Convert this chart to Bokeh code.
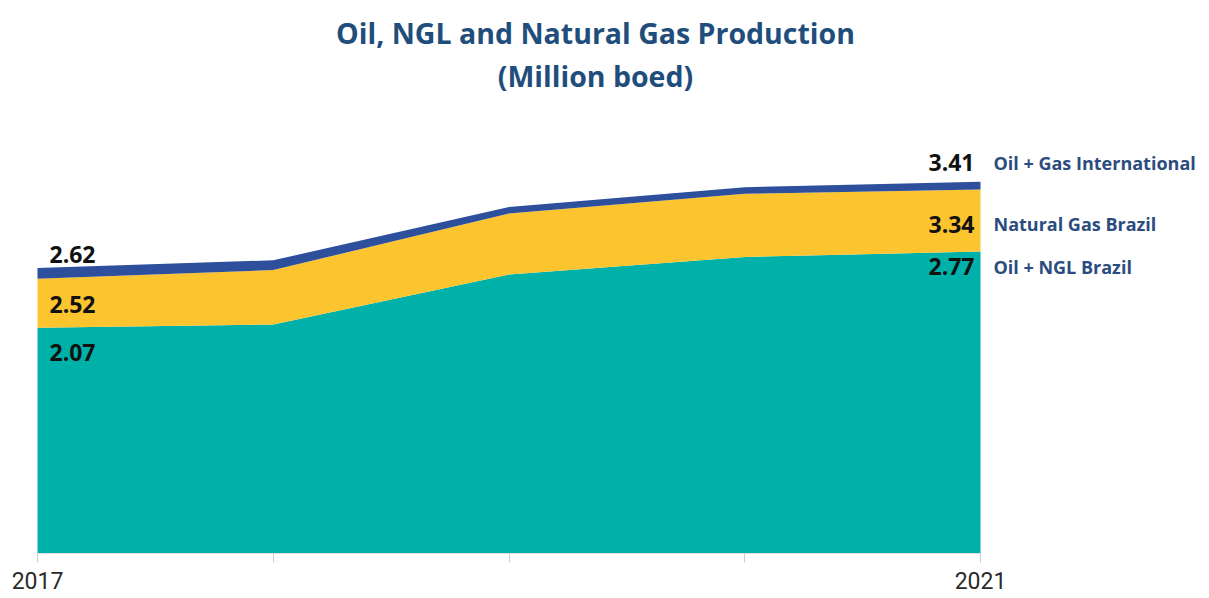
from bokeh.plotting import figure
from bokeh.models import ColumnDataSource, Label, FixedTicker, Range1d
from bokeh.embed import file_html
from bokeh.resources import INLINE

# ---- data ----
years = [2017, 2018, 2019, 2020, 2021]
oil_ngl_brazil = [2.07, 2.10, 2.56, 2.72, 2.77]
natural_gas_brazil = [0.45, 0.50, 0.56, 0.58, 0.57]
oil_gas_international = [0.10, 0.09, 0.06, 0.06, 0.07]
series_names = ["Oil + NGL Brazil", "Natural Gas Brazil", "Oil + Gas International"]
tick_labels = {2017: "2017", 2018: "", 2019: "", 2020: "", 2021: "2021"}
title_lines = ["Oil, NGL and Natural Gas Production", "(Million boed)"]

colors = ["#00B1A9", "#FCC42F", "#2D4F9C"]
NAME_COLOR = "#2B4C7E"
TITLE_COLOR = "#1F4E7C"

source = ColumnDataSource(dict(
    year=years,
    oil=oil_ngl_brazil,
    gas=natural_gas_brazil,
    intl=oil_gas_international,
))

# frame spans the whole width; 2017 sits at x=37 px and 2021 at x=980 px
PX_PER_YEAR = (980 - 37) / 4.0
x_start = 2017 - 37 / PX_PER_YEAR
x_end = 2021 + (1209 - 980) / PX_PER_YEAR
PX_PER_UNIT = 109.0
FRAME_H = 553
y_start = 0.0
y_end = y_start + FRAME_H / PX_PER_UNIT

p = figure(width=1209, height=598,
           x_range=Range1d(x_start, x_end), y_range=Range1d(y_start, y_end),
           min_border_left=0, min_border_right=0,
           min_border_top=0, min_border_bottom=45,
           y_axis_location=None,
           output_backend="svg", toolbar_location=None)

p.varea_stack(stackers=["oil", "gas", "intl"], x="year", color=colors, source=source)

p.xgrid.visible = False
p.ygrid.visible = False
p.outline_line_color = None

ax = p.xaxis[0]
ax.ticker = FixedTicker(ticks=years)
ax.bounds = (years[0], years[-1])
ax.major_label_overrides = tick_labels
ax.axis_line_color = "#dddddd"
ax.major_tick_line_color = "#cccccc"
ax.major_tick_out = 9
ax.major_tick_in = 0
ax.minor_tick_out = 0
ax.minor_tick_in = 0
ax.major_label_standoff = 9
ax.major_label_text_font = "Roboto"
ax.major_label_text_font_size = "23px"
ax.major_label_text_color = "#2b2b2b"

# cumulative values for labels
lvl1 = oil_ngl_brazil
lvl2 = [a + b for a, b in zip(lvl1, natural_gas_brazil)]
lvl3 = [a + b for a, b in zip(lvl2, oil_gas_international)]
levels = [lvl1, lvl2, lvl3]

NUM_FONT = "Open Sans"
left_offsets = [-25, -26, 13]
right_offsets = [-15, -35, 19]
for lev, off in zip(levels, left_offsets):
    p.add_layout(Label(x=years[0], y=lev[0], text="%.2f" % lev[0],
                       x_offset=12, y_offset=off,
                       text_align="left", text_baseline="middle",
                       text_font=NUM_FONT, text_font_style="bold",
                       text_font_size="23px", text_color="#111111"))
for lev, off, name in zip(levels, right_offsets, series_names):
    p.add_layout(Label(x=years[-1], y=lev[-1], text="%.2f" % lev[-1],
                       x_offset=-6, y_offset=off,
                       text_align="right", text_baseline="middle",
                       text_font=NUM_FONT, text_font_style="bold",
                       text_font_size="23px", text_color="#111111"))
    p.add_layout(Label(x=years[-1], y=lev[-1], text=name,
                       x_offset=13, y_offset=off,
                       text_align="left", text_baseline="middle",
                       text_font=NUM_FONT, text_font_style="bold",
                       text_font_size="18px", text_color=NAME_COLOR))

# title lines (inside the frame, above the areas)
title_x = 2017 + (595 - 37) / PX_PER_YEAR
for txt, py in zip(title_lines, [32, 75]):
    p.add_layout(Label(x=title_x, y=y_start + (FRAME_H - py) / PX_PER_UNIT, text=txt,
                       text_align="center", text_baseline="middle",
                       text_font=NUM_FONT, text_font_style="bold",
                       text_font_size="28.5px", text_color=TITLE_COLOR))

open("out.html", "w").write(file_html(p, INLINE))
